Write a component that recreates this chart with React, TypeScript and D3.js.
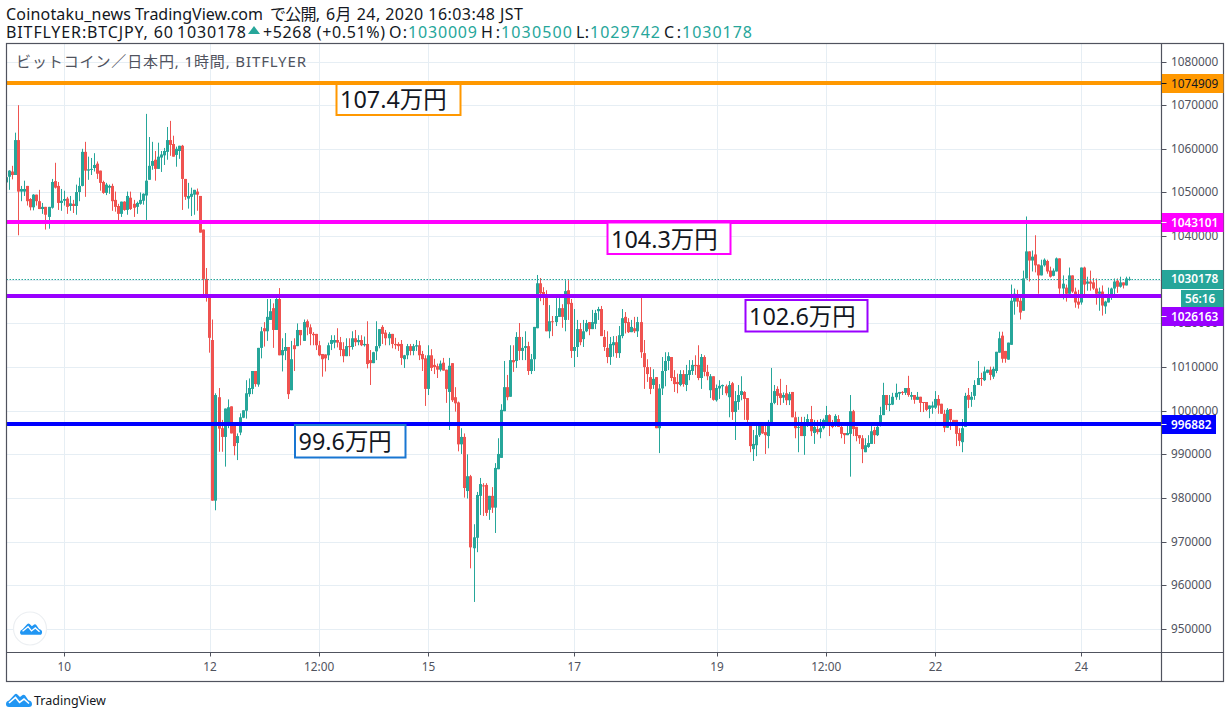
import React from "react";
import * as d3 from "d3";

type Candle = [number, number, number, number]; // open, high, low, close in thousand JPY

const candlesJun9to12: Candle[] = [
[1052.3,1053.5,1052.3,1053.5],[1053.6,1055.1,1050.6,1055],[1054.8,1056.1,1053,1054],[1054,1063.7,1054,1062],[1062,1070,1040.2,1050.2],
[1050.2,1051.5,1048,1050.8],[1050.2,1052.7,1049.2,1050.8],[1051.5,1051.5,1047,1048],[1048.5,1048.7,1045.9,1046.6],[1046.6,1049.6,1045.9,1049.5],
[1049.5,1049.5,1047,1048],[1048,1050.6,1046.2,1046.2],[1046.2,1047.6,1045.1,1046.7],[1046.7,1046.7,1041.5,1044.9],[1044.4,1046.7,1041.7,1046.7],
[1046.5,1053.1,1046.3,1052.4],[1052.6,1056.8,1050.9,1051.1],[1051.5,1052.4,1046,1047.6],[1047.6,1050.8,1045.8,1048.1],[1048.1,1050.4,1047,1048.5],
[1048.6,1049,1045.1,1046.7],[1046.9,1049.2,1045.8,1047.5],[1047.4,1048.3,1045.3,1046.9],[1046.9,1051.8,1044.9,1050.1],[1050.1,1053.4,1048,1051.5],
[1051.5,1060,1051.4,1059.3],[1059.3,1061.6,1049,1055],[1055,1058.2,1052.9,1055.3],[1055.2,1057.9,1054,1055.4],[1055.6,1059,1054.8,1056.3],
[1056.6,1057.1,1053.1,1054.3],[1055,1055,1050.4,1052.2],[1052.4,1052.7,1049.7,1049.9],[1049.9,1052.2,1049.4,1051.8],[1051.1,1051.8,1049.7,1051.5],
[1051.5,1052,1045.8,1048],[1048.3,1050.2,1045.6,1046.7],[1046.9,1047.4,1043.7,1045.1],[1045.1,1047.9,1044.4,1047.9],[1047.9,1048,1045.8,1046],
[1046,1050.2,1044.9,1049.2],[1048.8,1050.2,1046,1046.2],[1047.4,1048.3,1044.4,1046.5],[1046.7,1047.9,1045.1,1047.6],[1047.4,1050,1047.2,1048.3],
[1048.1,1049.8,1047.2,1049.7],[1049.3,1068,1043.7,1052.7],[1052.9,1062.7,1052.9,1056.1],[1056.1,1061.6,1055.2,1057.2],[1057.5,1059.5,1052.7,1055.4],
[1055.4,1061.4,1055.4,1058.2],[1058,1059.5,1054.7,1058.7],[1058.5,1060.2,1056.3,1059.5],[1059.3,1065,1057.5,1062],[1062,1066.4,1058.4,1060.9],
[1061.1,1063,1058.2,1058.2],[1058.6,1060.5,1055.9,1060],[1059.5,1060.7,1057.7,1060.7],[1060.7,1060.9,1046,1053.1],[1053.1,1053.1,1048.3,1049],
[1048.6,1052.2,1046.3,1049.2],[1049,1051.1,1044.6,1049.7],[1049.5,1050.6,1044.9,1050.6],[1050.2,1050.9,1045.8,1049.5],[1049.2,1049.2,1040.8,1040.8],
[1041.5,1041.5,1026.7,1030.2],[1030.2,1032.7,1025,1026.7],[1026,1026,1013.3,1016.7],
];

const candlesJun12to15: Candle[] = [
[1016.2,1020.9,979.4,979.4],[979.4,1004,977.2,1003.6],[1003.1,1005.2,990.6,995.9],[996,997.9,990.6,994],[994,1000.5,987.2,1000.5],
[997,1002.6,996,1000.8],[1001,1001,994.8,994.8],[996.7,996.7,989.8,991.9],[992.6,994.8,988.7,994.2],[995,999.4,994.4,998.5],
[998.4,1000.1,998.3,1000.1],[1000,1007,998.2,1004],[1003.8,1007.4,1003.2,1005.2],[1005,1009.1,1003.8,1009.1],[1009.1,1009.1,1005.5,1006.1],
[1006,1014.4,1005.5,1014.4],[1014.4,1019.2,1012,1018.2],[1018.9,1020.3,1014.7,1018.2],[1018.2,1025.6,1016,1021.5],[1020.8,1025.6,1020.8,1022.8],
[1023.5,1024.6,1014.4,1018.5],[1018.5,1025.8,1018.5,1025.6],[1025.6,1028.1,1012.7,1012.7],[1012.7,1016.6,1009,1013.9],[1013.7,1017.8,1011.6,1014.6],
[1014.6,1014.6,1002.7,1003.8],[1004.7,1016,1004.7,1011.8],[1015,1016.6,1009.1,1014.1],[1014.8,1020,1014.8,1018.5],[1018.5,1018.5,1015,1017.3],
[1016,1020.9,1016,1020.3],[1020.5,1020.9,1017.3,1019.1],[1019.1,1019.8,1015,1017.6],[1017.6,1018,1015,1017.3],[1017.6,1017.6,1013.9,1015],
[1015,1016,1012.5,1012.7],[1013,1013,1007.8,1011.8],[1012.9,1012.9,1009,1012],[1012.7,1015.6,1011.6,1015],[1015.3,1017.3,1013.9,1016.2],
[1015.6,1017.3,1014.3,1016.2],[1016.2,1018.9,1014.5,1015.6],[1015.7,1016.9,1012.5,1013.9],[1014.1,1015.7,1011.1,1012.5],[1012.5,1016.6,1012.5,1014.8],
[1014.8,1016.6,1012.5,1014.6],[1014.6,1018.2,1014,1016.6],[1016.6,1018.5,1014.8,1015.7],[1015.7,1017.3,1015,1016.2],[1016.2,1017.3,1014.8,1015],
[1015,1017,1014.7,1015.3],[1015.3,1020.5,1009.7,1010.7],[1011.6,1013.9,1005.9,1010.9],[1010.9,1013.5,1010.9,1013.4],[1013.6,1020.5,1011.6,1014.8],
[1014.8,1018.7,1014.3,1018.7],[1019.2,1019.6,1015.3,1017.6],[1017.9,1018.5,1015,1016.6],[1016.6,1018,1015,1017.6],[1017.6,1017.6,1014.3,1015.3],
[1015.3,1016.7,1014.1,1015],[1015.3,1015.7,1013.7,1014.8],[1015.3,1016.2,1010.5,1012.1],[1011.8,1012.8,1009.8,1012.7],[1012.7,1015.3,1011.8,1014.8],
[1014.8,1015.3,1012.7,1013.7],[1013.7,1015.3,1012.7,1014.8],[1014.7,1016.2,1013.7,1015],[1015,1016,1011.6,1012.7],[1013,1013.7,1009.1,1011.8],
[1012,1012.7,1001.1,1005],[1005,1015,1003.6,1012.7],
];

const candlesJun15to18: Candle[] = [
[1012.7,1014.1,1009.1,1009.8],[1010.5,1011.9,1008.4,1010],[1010.2,1010.8,1007.5,1009.4],[1009.4,1011.5,1009,1010.8],[1011,1012.1,1009.2,1009.2],
[1009.4,1009.4,1001.8,1005],[1004.3,1012.1,995.6,1010.3],[1010.9,1010.9,1002,1002.4],[1003.1,1005.4,999.8,1001.7],[1001.9,1002.1,990.7,992.3],
[992.3,996,990.1,994],[994,994.8,980.1,982.3],[981.6,990,979.9,985],[985,985.3,963.9,968.7],[968.5,974,956.2,971],
[970.9,981.4,967.6,980.7],[980.5,984.6,976.1,983.2],[982.9,983.4,975.9,982.7],[983,983.4,975.9,976.6],[977.3,980.5,975,980.5],
[980.5,982.5,976.6,977.8],[977.8,988,972,986.9],[986.6,993.7,986.6,990.1],[989.2,1001.5,989.2,1000.2],[999.9,1011.4,999.9,1005.4],
[1005.4,1008.2,1002.4,1003.1],[1003.2,1015,1003.2,1011.6],[1011.6,1015,1008.9,1011.1],[1011.4,1018,1009.8,1016.9],[1016.9,1020.1,1011.6,1013.7],
[1013.7,1016.9,1011.6,1014.4],[1014.4,1018.2,1011.6,1014.8],[1014.8,1015.8,1008.2,1009.1],[1009.1,1013,1008.4,1011.8],[1011.8,1019.2,1009.1,1019.2],
[1018.9,1031.1,1018.9,1029.2],[1029.2,1030.4,1025.1,1026.9],[1027.2,1028.3,1024.2,1026.7],[1026.7,1027.6,1018.2,1018.2],[1018.2,1024.2,1016.6,1020.5],
[1020.5,1021.7,1017.1,1020.3],[1020.3,1025.8,1019.4,1021.7],[1021.5,1025.8,1021.5,1023.5],[1023.5,1024.4,1019,1021.5],[1020.8,1029.9,1018.2,1027.4],
[1027.6,1029.9,1020.8,1024.4],[1024.7,1025.6,1012.1,1013.7],[1013.7,1023.3,1010,1014.6],[1014.6,1020.8,1012.3,1018.7],[1018.7,1020.1,1015,1015.7],
[1016.4,1020.8,1014.6,1018.2],[1018.2,1020.8,1018,1020.1],[1020.3,1020.3,1017.3,1018.7],[1018.7,1023.1,1018.7,1020.3],[1019.9,1023.1,1018.7,1022.4],
[1022.8,1023.8,1020.8,1023.3],[1023.3,1024,1017.1,1017.1],[1016.9,1018.5,1013.7,1014.6],[1014.4,1018.2,1010.9,1012.3],[1012.3,1016.9,1010.5,1015.3],
[1015,1017.1,1012.4,1015.7],[1015.7,1017.1,1012.1,1013.2],[1013.2,1019.4,1012.1,1017.3],[1017.1,1023.3,1016.6,1021.2],[1021.5,1022.6,1017.7,1020.1],
[1020.3,1021.2,1017.8,1018],[1018,1020.8,1018,1019.2],[1018.9,1021.5,1017.8,1018.2],[1018.2,1021.5,1016.9,1020.3],[1020.3,1026.2,1012.1,1013.4],
[1013.2,1016.2,1005,1010],[1010,1011.8,1006.6,1008.4],[1007.7,1010,1003.8,1005],[1005.9,1009.5,1005,1007.3],[1007.7,1007.7,996,996],
[996,1006.1,990.3,1005.1],
];

const candlesJun18to21: Candle[] = [
[1005.1,1012.3,1003.6,1009.1],[1009.1,1013.4,1005.6,1011.4],[1011.4,1013.4,1009.3,1012.5],[1012.3,1012.3,1006.8,1007.5],[1007.7,1009.3,1004.3,1006.1],
[1006.6,1008.5,1004,1006.1],[1005.9,1009.3,1005.6,1008.4],[1008.4,1009.3,1005.5,1006.1],[1005.9,1010.5,1004.5,1008.4],[1008.2,1011.6,1007,1009.3],
[1009.1,1011.6,1008.2,1010.5],[1010.5,1012.7,1008.2,1010.2],[1010.5,1015,1007,1007.5],[1007.5,1013,1005,1012.3],[1012.3,1012.7,1007.9,1008.9],
[1008.9,1010.5,1007,1007.9],[1004.7,1008.4,1002.9,1007.9],[1007.9,1007.9,1002.3,1002.5],[1002.4,1006,1002.1,1005.2],[1005.1,1007,1002.7,1005.7],
[1005.6,1006,1003.6,1005.9],[1005.6,1006,1003.5,1004],[1003.1,1006.8,998.5,1005.9],[1006.3,1006.6,997.9,999.7],[999.7,1004.5,993.3,1002.2],
[1002,1005.9,1000.2,1003.6],[1003.6,1007.9,1002.4,1004.5],[1004.3,1004.5,997.9,1002.7],[1002.9,1002.9,997.1,997.9],[996.9,996.9,990.5,991.9],
[991.2,995.6,988.5,992.4],[992.1,996.5,989.6,994.4],[994.4,997.4,994,996.5],[996.5,997.4,994.7,994.8],[995.1,996.5,990.1,994.4],
[994.2,997.9,991.4,996.5],[996.5,1009.8,996.5,1001.8],[1001.8,1005.9,1001.5,1004.5],[1005,1005.6,1001.3,1003.4],[1004,1007.3,1001.3,1002.9],
[1003,1004.2,1001.8,1003.6],[1004,1005.9,1001.3,1002.4],[1002.4,1004.3,1001.3,1003.8],[1004.3,1004.3,998.5,998.5],[998.5,999.8,993.7,996],
[996.1,998.6,990.5,996.3],[996.6,998.6,994.2,994.2],[994.2,998.6,989.9,996.5],[996.5,999.2,996.3,998.1],[998.1,1001.1,994.2,995.3],
[994.9,997.9,992.4,996.3],[995.8,997.9,994.6,995.1],[995.1,998.1,993.7,996],[996,998.2,995.7,997.9],[996.5,1001.1,996.5,999],
[999,999.2,994.2,996.5],[996.5,997.9,996,996.3],[996.5,999.2,996.3,998.8],[998.1,999,996.3,996.3],[996.3,996.5,993.7,994.7],
[994.9,994.9,992.4,994.4],[994.4,996.7,994.4,994.9],[994.7,1003.6,984.9,999.9],[999.9,1000.2,994.2,995.8],[996.3,996.3,993,994.2],
[994.4,994.4,992.4,993.7],[993.7,994.4,988,991.2],[990.5,993.7,990.5,992.1],[991.7,994.4,991.5,992.6],[992.4,996.7,992.4,995.3],
[995.6,996.3,992.4,994.4],[994.4,996.5,994.2,996.3],
];

const candlesJun21to24: Candle[] = [
[997.1,1000.9,996.4,999],[999,1006.4,999,1003.6],[1003.6,1003.6,1000.2,1001.3],[1001.3,1003.6,999.9,1001.6],[1001.4,1004.1,1001.3,1003.2],
[1003.1,1006.2,1002.5,1004.1],[1003.9,1004.3,1002.5,1004.3],[1004.3,1004.5,1003.6,1004.1],[1004.1,1005.2,1003.6,1005.2],[1005.2,1008,1003.2,1003.6],
[1003.2,1004.3,1002.5,1003.6],[1003.6,1003.6,1001.6,1002.5],[1002.5,1004.3,1002.5,1003.2],[1003.2,1003.2,999.7,1001.8],[1002,1002,999.7,1001.8],
[1002,1002,999.9,1000.2],[1000.4,1001.2,998.3,1001.2],[1000.7,1002.1,999.3,1001.2],[1000.7,1004.5,1000.4,1002.7],[1002.7,1003.6,999.3,1001.2],
[1001.6,1001.6,999.3,999.3],[999.3,1000.2,995.1,996.1],[996.1,1000.6,996.1,1000.2],[1000.4,1000.4,995.6,997.9],[997.9,997.9,996.7,996.8],
[997.9,997.9,991.9,994.7],[994.9,996,991.9,993.1],[992.8,998.1,990.5,996],[996.3,1004.1,996.3,1003.4],[1003.6,1005.2,1000.6,1002.5],
[1002.5,1004.3,1000.9,1003.2],[1003.4,1007,1002.5,1005.9],[1005.9,1011.4,1005.9,1007.5],[1007.5,1008.7,1005.7,1007.3],[1007,1010.1,1006.8,1009],
[1008.7,1009.4,1008.6,1009.4],[1009.4,1010.1,1007,1008.2],[1007.8,1010.1,1007.3,1009.6],[1009.1,1013.5,1008.6,1013.5],[1013.3,1018.1,1013.3,1016.6],
[1017.2,1018.1,1011,1011.9],[1013.7,1013.7,1011,1011.9],[1011.7,1015.6,1011.7,1015.6],[1015.1,1028.9,1015.1,1025.2],[1025,1028,1022,1026.8],
[1025.9,1027.7,1023.8,1025],[1025.2,1025.9,1020.9,1022.5],[1022.9,1032.1,1022.9,1030.3],[1030.3,1044.5,1030.3,1036.5],[1036.5,1036.5,1029.6,1034.4],
[1034.4,1036.7,1031.9,1035.3],[1035.8,1040.2,1031.7,1033.3],[1033.5,1033.5,1026.8,1031],[1031,1034.6,1031,1033.3],[1033.3,1034.9,1033,1034.6],
[1034.3,1034.6,1031.4,1031.9],[1032.1,1033,1030.5,1030.7],[1030.9,1032.6,1030.8,1032.1],[1031.9,1035.1,1031.9,1034.9],[1034.9,1034.9,1026.8,1028],
[1028,1031,1025.5,1029.1],[1028.2,1028.9,1025,1026.8],[1026.8,1032.8,1026.8,1031],[1031,1031,1027,1027.3],[1027.3,1028.2,1023.6,1024.8],
[1025,1027.7,1023.4,1024.3],[1024.8,1032.8,1024.3,1032.8],[1032.8,1033,1026.6,1028.9],[1029.1,1030.7,1027.5,1029.6],[1029.6,1032.1,1027.5,1029.1],
[1029.4,1030.4,1027.7,1028],[1028,1030.3,1024.3,1026.8],[1026.8,1028.2,1022.9,1027.3],[1027.3,1028.7,1021.8,1024.1],[1023.9,1025.2,1022.2,1025],
[1024.8,1028.2,1024.8,1025.9],[1025.9,1028.2,1025.4,1028],[1028,1030.3,1026.6,1029.6],[1029.8,1030.3,1027,1028.4],[1028.4,1030.7,1028.2,1029.4],
[1029.4,1029.4,1028,1028.7],[1028.7,1030.7,1028.7,1030.3],[1030,1030.7,1029.8,1030.2],
];

const candles: Candle[] = [...candlesJun9to12, ...candlesJun12to15, ...candlesJun15to18, ...candlesJun18to21, ...candlesJun21to24];

const priceTicks = [1080, 1070, 1060, 1050, 1040, 1030, 1020, 1010, 1000, 990, 980, 970, 960, 950];
const timeTickIndex = [19, 67, 103, 139, 187, 234, 270, 306, 354];
const timeTickLabels = ["10", "12", "12:00", "15", "17", "19", "12:00", "22", "24"];

const levelPrices = [1074.909, 1043.101, 1026.163, 996.882];
const levelColors = ["#ff9800", "#ff00ff", "#9900ff", "#0000ff"];
const levelTexts = ["1074909", "1043101", "1026163", "996882"];
const levelTextColors = ["#131722", "#ffffff", "#ffffff", "#ffffff"];
const levelLabelShift = [0, 0, 20, 0];

const noteTexts = ["107.4万円", "104.3万円", "102.6万円", "99.6万円"];
const noteColors = ["#ff9800", "#ff00ff", "#9900ff", "#1976d2"];
const lastPrice = 1030.178;

const UP = "#26a69a";
const DOWN = "#ef5350";
const GRID = "#e6eef4";
const FRAME = "#50535e";
const JP = "'Noto Sans', 'Noto Sans CJK JP', sans-serif";
const INK = "#131722";

const L = 6.5, R = 1161.5, OUTER_R = 1223.5, T = 43.5, B = 652.5, OUTER_B = 681.5;

const y = d3.scaleLinear().domain([950, 1080]).range([629, 61.5]);
const x = d3.scaleLinear().domain([0, 370]).range([6.5, 1129.8]);

const notePlacement = [
  { left: 336.5, top: 83, w: 124, h: 32 },
  { left: 607.5, top: 222.5, w: 123, h: 31.5 },
  { left: 745.5, top: 300, w: 122, h: 31.5 },
  { left: 295, top: 425, w: 110.5, h: 32.5 },
];

const headerPieces: { t: string; x: number; w: number; line: number; teal?: boolean }[] = [
  { t: "Coinotaku_news", x: 6, w: 125, line: 20 },
  { t: "TradingView.com", x: 135, w: 128, line: 20 },
  { t: "で公開,", x: 270, w: 50, line: 20 },
  { t: "6月 24, 2020 16:03:48 JST", x: 326, w: 197, line: 20 },
  { t: "BITFLYER:BTCJPY, 60", x: 6, w: 167, line: 38 },
  { t: "1030178", x: 177, w: 69, line: 38 },
  { t: "+5268 (+0.51%)", x: 263, w: 122, line: 38 },
  { t: "O:", x: 389, w: 18, line: 38 },
  { t: "1030009", x: 408, w: 69, line: 38, teal: true },
  { t: "H:", x: 481, w: 19, line: 38 },
  { t: "1030500", x: 501, w: 71, line: 38, teal: true },
  { t: "L:", x: 576, w: 13, line: 38 },
  { t: "1029742", x: 590, w: 70, line: 38, teal: true },
  { t: "C:", x: 664, w: 17, line: 38 },
  { t: "1030178", x: 682, w: 70, line: 38, teal: true },
];

function Cloud({ tx, ty, k }: { tx: number; ty: number; k: number }) {
  return (
    <g transform={`translate(${tx},${ty}) scale(${k})`}>
      <path d="M0 12Q0 9.3 3 8.4L8.6 2.4Q10 1 11.4 2.4L14 5L16.6 3Q18 2.2 19.2 3.4L22.4 8.2Q26 9 26 12Q26 15 23 15L3 15Q0 15 0 12Z" fill="#2196f3" />
      <polyline points="3,11 9.5,5.5 13.5,10.5 18,7 23,11.5" fill="none" stroke="#ffffff" strokeWidth={1.6} />
    </g>
  );
}

export default function App() {
  const levelY = (p: number) => Math.floor(y(p));
  return (
    <svg width={1230} height={718} style={{ position: "absolute", left: 0, top: 0, background: "#fff" }}>
      <defs>
        <clipPath id="plot"><rect x={L} y={T} width={R - L} height={B - T} /></clipPath>
      </defs>

      {headerPieces.map((h, i) => (
        <text key={i} x={h.x} y={h.line} fontFamily={JP} fontSize={16} fill={h.teal ? UP : INK} textLength={h.w} lengthAdjust="spacing">{h.t}</text>
      ))}
      <path d="M248 34L254 26L260 34Z" fill={UP} />

      <g clipPath="url(#plot)">
        {priceTicks.map((p) => (
          <line key={p} x1={L} x2={R} y1={Math.round(y(p)) + 0.5} y2={Math.round(y(p)) + 0.5} stroke={GRID} />
        ))}
        {timeTickIndex.map((i) => (
          <line key={i} y1={T} y2={B} x1={Math.round(x(i)) + 0.5} x2={Math.round(x(i)) + 0.5} stroke={GRID} />
        ))}
        <text x={16} y={67} fontFamily={JP} fontSize={15} fill="#50535e" textLength={290} lengthAdjust="spacing">ビットコイン／日本円, 1時間, BITFLYER</text>

        {candles.map(([o, h, l, c], i) => {
          const col = c >= o ? UP : DOWN;
          const left = Math.round(x(i) - 1.5);
          const top = Math.min(y(o), y(c));
          return (
            <g key={i} fill={col}>
              <rect x={left + 1} width={1} y={y(h)} height={Math.max(1, y(l) - y(h))} />
              <rect x={left} width={3} y={top} height={Math.max(1, Math.abs(y(o) - y(c)))} />
            </g>
          );
        })}

        <line x1={L} x2={R} y1={Math.round(y(lastPrice)) + 0.5} y2={Math.round(y(lastPrice)) + 0.5} stroke={UP} strokeDasharray="1.5 1.5" />

        {levelPrices.map((p, i) => (
          <line key={p} x1={L} x2={R} y1={levelY(p)} y2={levelY(p)} stroke={levelColors[i]} strokeWidth={4} />
        ))}

        {noteTexts.map((t, i) => {
          const n = notePlacement[i];
          return (
            <g key={t}>
              <rect x={n.left} y={n.top} width={n.w} height={n.h} fill="#fff" stroke={noteColors[i]} strokeWidth={2} />
              <text x={n.left + 3.5} y={n.top + 25} fontFamily={JP} fontSize={23.4} fill={INK}>{t}</text>
            </g>
          );
        })}
        <line x1={L} x2={R} y1={levelY(levelPrices[0])} y2={levelY(levelPrices[0])} stroke={levelColors[0]} strokeWidth={4} />

        <circle cx={30} cy={628.5} r={16.5} fill="#fff" stroke="#eceff2" strokeWidth={1.2} />
        <Cloud tx={20} ty={622} k={0.85} />
      </g>

      <rect x={L} y={T} width={OUTER_R - L} height={OUTER_B - T} fill="none" stroke={FRAME} strokeWidth={1.2} />
      <line x1={R} x2={R} y1={T} y2={OUTER_B} stroke={FRAME} strokeWidth={1.2} />
      <line x1={L} x2={OUTER_R} y1={B} y2={B} stroke={FRAME} strokeWidth={1.2} />

      {priceTicks.map((p) => (
        <g key={p}>
          <line x1={R} x2={R + 5} y1={Math.round(y(p)) + 0.5} y2={Math.round(y(p)) + 0.5} stroke={FRAME} />
          <text x={1171} y={y(p) + 4} fontFamily={JP} fontSize={11.8} fill="#50535e">{String(p * 1000)}</text>
        </g>
      ))}
      {timeTickIndex.map((i, k) => (
        <g key={i}>
          <line x1={Math.round(x(i)) + 0.5} x2={Math.round(x(i)) + 0.5} y1={B} y2={B + 4} stroke={FRAME} />
          <text x={x(i)} y={671} textAnchor="middle" fontFamily={JP} fontSize={11.8} fill="#50535e">{timeTickLabels[k]}</text>
        </g>
      ))}

      <rect x={R + 0.5} y={y(lastPrice) - 9} width={OUTER_R - R - 0.5} height={19} fill={UP} />
      <text x={1171} y={y(lastPrice) + 4.5} fontFamily={JP} fontSize={11.8} fontWeight={600} fill="#fff">1030178</text>
      <rect x={1181} y={290} width={OUTER_R - 1181} height={17} fill={UP} />
      <text x={1185} y={303} fontFamily={JP} fontSize={11.8} fontWeight={600} fill="#fff">56:16</text>

      {levelPrices.map((p, i) => {
        const cy = levelY(p) + 0.5 + levelLabelShift[i];
        return (
          <g key={p}>
            <rect x={R + 0.5} y={cy - 9.5} width={i === 3 ? 54 : OUTER_R - R - 0.5} height={19} fill={levelColors[i]} />
            <line x1={R} x2={R + 5} y1={Math.floor(cy) + 0.5} y2={Math.floor(cy) + 0.5} stroke={levelTextColors[i]} />
            <text x={1171} y={cy + 4} fontFamily={JP} fontSize={11.8} fontWeight={i === 0 ? 400 : 600} fill={levelTextColors[i]}>{levelTexts[i]}</text>
          </g>
        );
      })}

      <Cloud tx={6} ty={692} k={1} />
      <text x={34} y={705} fontFamily={JP} fontSize={12.5} fill={INK}>TradingView</text>
    </svg>
  );
}
